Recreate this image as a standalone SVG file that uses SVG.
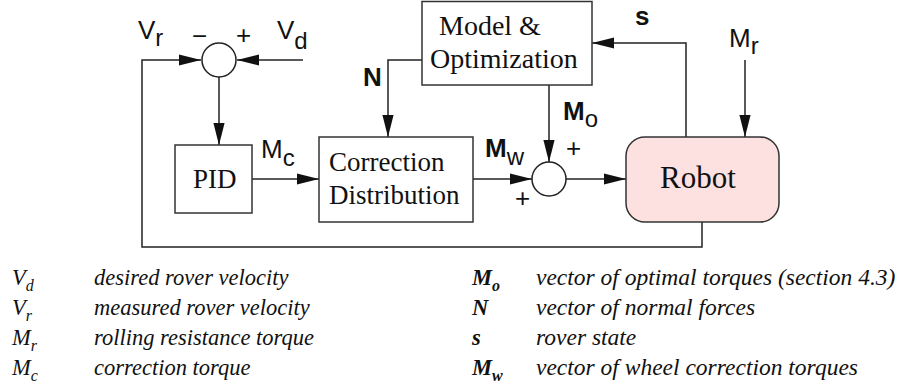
<svg xmlns="http://www.w3.org/2000/svg" width="903" height="392" viewBox="0 0 903 392">
<style>
.box{fill:#fff;stroke:#333;stroke-width:1.5}
.robot{fill:#fde0e0;stroke:#333;stroke-width:1.5}
.sum{fill:#fff;stroke:#222;stroke-width:1.5}
.ln{fill:none;stroke:#222;stroke-width:1.5}
text{fill:#111}
.sf{font-family:"Liberation Serif","DejaVu Serif","Noto Serif",serif}
</style>
<defs>
<marker id="ah" markerUnits="userSpaceOnUse" markerWidth="22" markerHeight="12" refX="22" refY="6" orient="auto">
<path d="M0,0.4 L22,6 L0,11.6 Z" fill="#111"/>
</marker>
</defs>
<g id="connectors">
<path class="ln" d="M702,222 V247 H142 V60 H201" marker-end="url(#ah)"/>
<path class="ln" d="M303,60 H237" marker-end="url(#ah)"/>
<path class="ln" d="M219,77 V145" marker-end="url(#ah)"/>
<path class="ln" d="M252,179 H319" marker-end="url(#ah)"/>
<path class="ln" d="M422,60 H388 V137" marker-end="url(#ah)"/>
<path class="ln" d="M549,85 V162" marker-end="url(#ah)"/>
<path class="ln" d="M473,179 H532" marker-end="url(#ah)"/>
<path class="ln" d="M566,179 H626" marker-end="url(#ah)"/>
<path class="ln" d="M686,137 V43 H592" marker-end="url(#ah)"/>
<path class="ln" d="M745,60 V137" marker-end="url(#ah)"/>
</g>
<g font-family="'Liberation Sans', Arial, Helvetica, sans-serif" font-size="26">
<g id="sum1">
<circle class="sum" cx="219" cy="60" r="17"/>
<text x="192" y="45">−</text>
<text x="236" y="44">+</text>
</g>
<g id="sum2">
<circle class="sum" cx="549" cy="179" r="17"/>
<text x="566" y="157">+</text>
<text x="515" y="207">+</text>
</g>
<g id="labels">
<text x="138" y="39">V<tspan font-size="24" dy="7">r</tspan></text>
<text x="277" y="39">V<tspan font-size="24" dy="10">d</tspan></text>
<text x="261" y="158">M<tspan font-size="24" dy="8">c</tspan></text>
<text x="363" y="86" font-weight="bold">N</text>
<text x="563" y="120"><tspan font-weight="bold">M</tspan><tspan font-size="24" dy="7">o</tspan></text>
<text x="485" y="157"><tspan font-weight="bold">M</tspan><tspan font-size="24" dy="8">w</tspan></text>
<text x="635" y="25" font-weight="bold">s</text>
<text x="729" y="47">M<tspan font-size="24" dy="7">r</tspan></text>
</g>
</g>
<g class="sf" font-size="27">
<g id="model">
<rect class="box" x="422" y="1.5" width="170" height="83.5"/>
<text class="sf" x="439" y="35" font-size="28">Model &amp;</text>
<text class="sf" x="430" y="68" font-size="28">Optimization</text>
</g>
<g id="pid">
<rect class="box" x="175" y="145" width="77" height="68"/>
<text class="sf" x="193" y="188">PID</text>
</g>
<g id="correction">
<rect class="box" x="319" y="137" width="154" height="85"/>
<text class="sf" x="329" y="171">Correction</text>
<text class="sf" x="329" y="204">Distribution</text>
</g>
<g id="robot">
<rect class="robot" x="626" y="137" width="153" height="85" rx="19" ry="19"/>
<text class="sf" x="660" y="188" font-size="31">Robot</text>
</g>
<g id="legend" font-size="22.5" font-style="italic">
<text class="sf" x="12" y="285">V<tspan font-size="16" dy="6">d</tspan></text>
<text class="sf" x="94" y="285">desired rover velocity</text>
<text class="sf" x="12" y="315">V<tspan font-size="16" dy="6">r</tspan></text>
<text class="sf" x="94" y="315">measured rover velocity</text>
<text class="sf" x="12" y="345">M<tspan font-size="16" dy="6">r</tspan></text>
<text class="sf" x="94" y="345">rolling resistance torque</text>
<text class="sf" x="12" y="375">M<tspan font-size="16" dy="6">c</tspan></text>
<text class="sf" x="94" y="375">correction torque</text>
<text class="sf" x="472" y="285" font-weight="bold">M<tspan font-size="16" dy="6">o</tspan></text>
<text class="sf" x="536" y="285" font-size="23.5">vector of optimal torques (section 4.3)</text>
<text class="sf" x="472" y="315" font-weight="bold">N</text>
<text class="sf" x="536" y="315" font-size="23.5">vector of normal forces</text>
<text class="sf" x="472" y="345" font-weight="bold">s</text>
<text class="sf" x="536" y="345" font-size="23.5">rover state</text>
<text class="sf" x="472" y="375" font-weight="bold">M<tspan font-size="16" dy="6">w</tspan></text>
<text class="sf" x="536" y="375" font-size="23.5">vector of wheel correction torques</text>
</g>
</g>
</svg>
